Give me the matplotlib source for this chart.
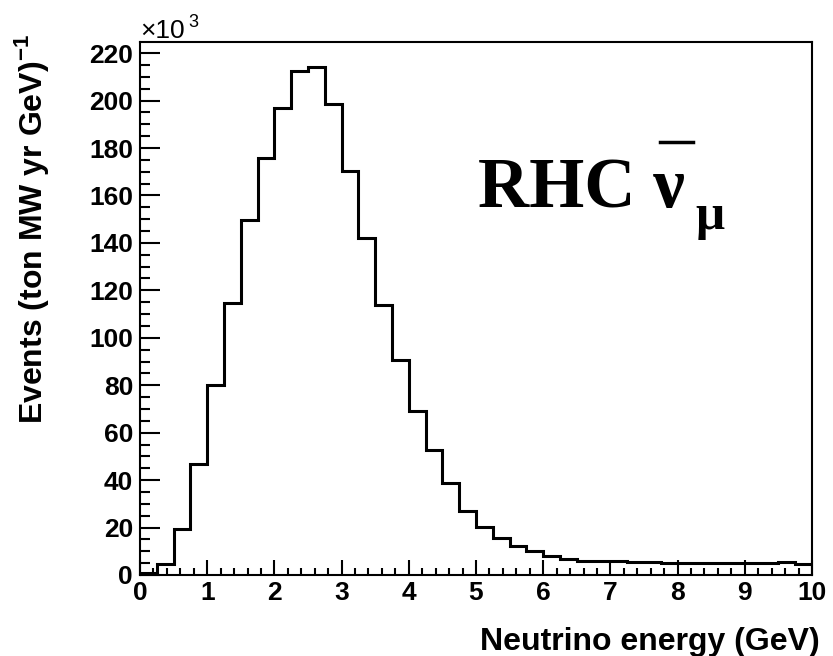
import matplotlib
matplotlib.use("Agg")
import matplotlib.pyplot as plt
from matplotlib.lines import Line2D
import numpy as np

plt.rcParams['font.family'] = ['Liberation Sans', 'DejaVu Sans']
plt.rcParams['mathtext.fontset'] = 'custom'
plt.rcParams['mathtext.rm'] = 'Liberation Sans:bold'
plt.rcParams['mathtext.bf'] = 'Liberation Sans:bold'

# RHC numubar flux, 0.25 GeV bins, events in units of 10^3
bin_edges = np.arange(0, 10.001, 0.25)
events_k = [1.0, 4.6, 19.6, 47.0, 80.0, 114.5, 149.5, 176.0, 197.0, 212.5,
            214.0, 198.5, 170.5, 142.0, 114.0, 90.5, 69.3, 52.5, 38.6, 27.1,
            20.3, 15.6, 12.4, 10.0, 8.1, 6.7, 6.0, 6.0, 6.0, 5.5,
            5.5, 4.9, 4.9, 4.9, 4.9, 4.9, 4.9, 4.9, 5.4, 4.6]
x_ticks = [0, 1, 2, 3, 4, 5, 6, 7, 8, 9, 10]
y_ticks = [0, 20, 40, 60, 80, 100, 120, 140, 160, 180, 200, 220]

fig = plt.figure(figsize=(8.33, 6.56), dpi=100)
ax = fig.add_axes([140/833, 1 - 575/656, 672/833, 533/656])

ax.stairs(events_k, bin_edges, color='black', linewidth=2.2, baseline=None)

ax.set_xlim(0, 10)
ax.set_ylim(0, 1.05 * max(events_k))
ax.set_xticks(x_ticks)
ax.set_yticks(y_ticks)
ax.set_xticks(np.arange(0, 10.001, 0.2), minor=True)
ax.set_yticks(np.arange(0, 225, 5), minor=True)

for s in ax.spines.values():
    s.set_linewidth(1.5)

tick_font = {'family': 'Liberation Sans', 'weight': 'bold', 'size': 19}
ax.set_xticklabels([str(t) for t in x_ticks], fontdict=tick_font)
ax.set_yticklabels([str(t) for t in y_ticks], fontdict=tick_font)
ax.tick_params(axis='both', which='both', direction='in', width=1.5,
               top=False, right=False)
ax.tick_params(axis='x', which='major', length=11, pad=4)
ax.tick_params(axis='x', which='minor', length=5)
ax.tick_params(axis='y', which='major', length=14.5, pad=5)
ax.tick_params(axis='y', which='minor', length=7)

ax.set_xlabel('Neutrino energy (GeV)', fontsize=23, fontweight='bold', loc='right')
ax.xaxis.set_label_coords(1.012, -0.097)
ax.set_ylabel(r'Events (ton MW yr GeV)$^{\mathregular{-1}}$', fontsize=23,
              fontweight='bold', loc='top')
ax.yaxis.set_label_coords(-0.132, 1.015)

# axis multiplier
fig.text(140/833, 1 - 38/656, '×10', fontsize=19, fontfamily='Liberation Sans',
         va='baseline', ha='left')
fig.text(188/833, 1 - 27/656, '3', fontsize=13, fontfamily='Liberation Sans',
         va='baseline', ha='left')

# RHC numubar label
fig.text(478/833, 1 - 207/656, 'RHC ν', fontsize=51, fontfamily='Liberation Serif',
         fontweight='bold', va='baseline', ha='left')
fig.text(695/833, 1 - 229/656, 'μ', fontsize=37, fontfamily='Liberation Serif',
         fontweight='bold', va='baseline', ha='left')
fig.add_artist(Line2D([660/833, 693/833], [1 - 142/656, 1 - 142/656],
                      transform=fig.transFigure, color='black', linewidth=2.5))

fig.savefig('out.png', dpi=100)
